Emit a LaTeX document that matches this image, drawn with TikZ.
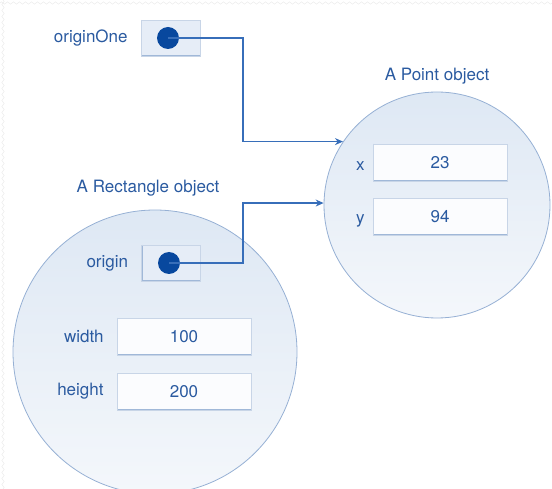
\documentclass[tikz,border=0pt]{standalone}
\usepackage{fontspec}
\setmainfont{TeX Gyre Heros}
\usetikzlibrary{positioning,arrows.meta,decorations.pathmorphing}
\definecolor{txtblue}{RGB}{42,90,160}
\definecolor{lineblue}{RGB}{55,110,185}
\definecolor{dotblue}{RGB}{8,72,158}
\definecolor{circedge}{RGB}{150,176,212}
\definecolor{circtop}{RGB}{222,232,244}
\definecolor{circbot}{RGB}{244,247,251}
\definecolor{boxedge}{RGB}{200,213,231}
\definecolor{boxside}{RGB}{160,184,216}
\definecolor{boxfill}{RGB}{251,252,254}
\definecolor{reffill}{RGB}{230,237,247}
\begin{document}
\begin{tikzpicture}[x=1pt, y=-1pt, >={Stealth[length=8pt,width=7pt]}, font=\fontsize{17}{20}\selectfont]
    \tikzstyle{object}=[draw=circedge, circle, inner sep=0pt, top color=circtop, bottom color=circbot, line width=0.8pt]
    \tikzstyle{field}=[draw=boxedge, fill=boxfill, minimum width=134pt, minimum height=37pt, inner sep=0pt, text=txtblue,
      path picture={\draw[boxside, line width=2.2pt] (path picture bounding box.north west) -- (path picture bounding box.south west) -- (path picture bounding box.south east);}]
    \tikzstyle{refbox}=[field, fill=reffill, minimum width=59pt, minimum height=36pt]
    \tikzstyle{dot}=[circle, fill=dotblue, minimum size=22pt, inner sep=0pt]
    \tikzstyle{lbl}=[text=txtblue, inner sep=0pt]
    \tikzstyle{ref}=[draw=lineblue, line width=1.2pt, ->]

    \useasboundingbox (0,0) rectangle (552,489);
    \clip (0,0) rectangle (552,489);
    \draw [gray!18, decorate, decoration={zigzag, segment length=6pt, amplitude=1.2pt}] (0,3) -- (552,3);
    \draw [gray!18, decorate, decoration={zigzag, segment length=6pt, amplitude=1.2pt}] (3,0) -- (3,489);

    % draw objects
    \node [object, minimum size=284pt] (rectobj) at (155,352) {};
    \node [object, minimum size=226pt] (pointobj) at (437,205) {};

    \node [lbl] (rectTitle) at (148,188) {A Rectangle object};
    \node [lbl] (pointTitle) at (437,76) {A Point object};

    % draw references
    \node [refbox] (originOneBox) at (170.5,38) {};
    \node [refbox] (originBox) at (171,263) {};
    \node [dot] (originOneDot) at (168,38) {};
    \node [dot] (originDot) at (169,263) {};
    \node [lbl, left=13pt of originOneBox] (originOneLbl) {originOne};
    \node [lbl, left=13pt of originBox] (originLbl) {origin};

    % draw fields
    \foreach \m/\l [count=\y] in {23/x, 94/y} {
    \node [field] (pointField-\y) at (440,108+\y*54.5) {\m};
    \node [lbl, left=8pt of pointField-\y, yshift=-4pt] (pointLbl-\y) {\l};}

    \foreach \m/\l [count=\y] in {100/width, 200/height} {
    \node [field] (rectField-\y) at (184,281.5+\y*55) {\m};
    \node [lbl, left=13pt of rectField-\y] (rectLbl-\y) {\l};}

    % draw lines
    \draw [ref] (originOneDot.center) -- ++(75,0) |- (pointobj.146);
    \draw [ref] (originDot.center) -- ++(74,0) |- (pointobj.179);
\end{tikzpicture}
\end{document}
